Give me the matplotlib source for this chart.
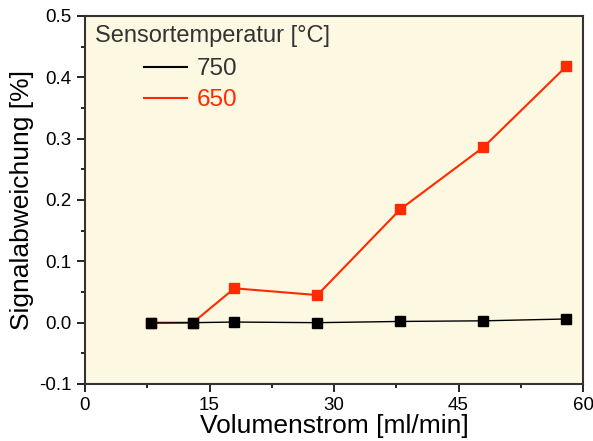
import matplotlib
matplotlib.use("Agg")
import matplotlib.pyplot as plt
from matplotlib.ticker import MultipleLocator

plt.rcParams['font.family'] = ['Liberation Sans', 'DejaVu Sans']

flow = [8, 13, 18, 28, 38, 48, 58]
dev_750 = [-0.0005, 0.0, 0.001, 0.0, 0.002, 0.003, 0.006]
dev_650 = [0.0, 0.0, 0.056, 0.045, 0.185, 0.286, 0.418]

fig = plt.figure(figsize=(5.93, 4.41), dpi=100)
ax = fig.add_axes([85 / 593, 1 - 384 / 441, 498 / 593, 368 / 441])
ax.set_facecolor('#fdf8e1')

ax.plot(flow, dev_650, color='#ff2a00', lw=1.5, marker='s', ms=7, label='650', zorder=2)
ax.plot(flow, dev_750, color='black', lw=1.0, marker='s', ms=7, label='750', zorder=3)

ax.set_xlim(0, 60)
ax.set_ylim(-0.1, 0.5)
ax.xaxis.set_minor_locator(MultipleLocator(7.5))
ax.yaxis.set_minor_locator(MultipleLocator(0.05))
ax.set_xticks([0, 15, 30, 45, 60])
ax.set_xticklabels(['0', '15', '30', '45', '60'])
ax.set_yticks([-0.1, 0.0, 0.1, 0.2, 0.3, 0.4, 0.5])
ax.set_yticklabels(['-0.1', '0.0', '0.1', '0.2', '0.3', '0.4', '0.5'])
ax.tick_params(which='major', direction='out', length=6, width=1.2, labelsize=13.5)
ax.tick_params(which='minor', direction='out', length=3, width=1.2)
for s in ax.spines.values():
    s.set_linewidth(1.5)
    s.set_color('#333333')

ax.set_xlabel('Volumenstrom [ml/min]', fontsize=19, labelpad=0)
ax.set_ylabel('Signalabweichung [%]', fontsize=19, labelpad=4)

# legend title sits left, entries are indented below it
ax.text(0.02, 0.93, 'Sensortemperatur [°C]', transform=ax.transAxes,
        fontsize=17, color='#333333', ha='left', va='baseline')
handles, labels = ax.get_legend_handles_labels()
leg = ax.legend(handles[::-1], labels[::-1], loc='upper left',
                bbox_to_anchor=(0.098, 0.912), frameon=False,
                fontsize=17.5, handlelength=1.8, handletextpad=0.4,
                labelspacing=0.38, borderaxespad=0)
for line in leg.get_lines():
    line.set_marker('')
    line.set_linewidth(1.5)
for txt, c in zip(leg.get_texts(), ['#333333', '#ff2a00']):
    txt.set_color(c)

fig.savefig('out.png', dpi=100)
